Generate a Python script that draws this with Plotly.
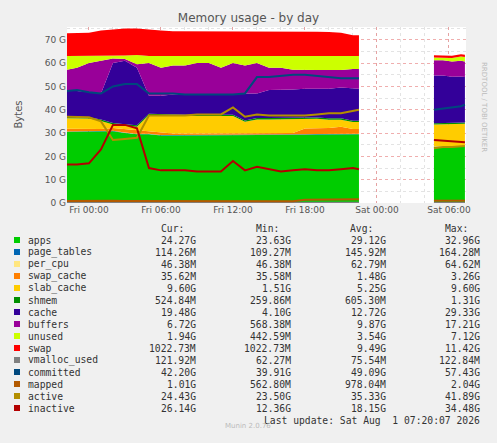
import plotly.graph_objects as go
from datetime import datetime, timedelta

# ---- data (G units) ----
T0 = datetime(2026, 7, 31, 0, 0)
hours1 = [-2,-1,0,1,2,3,4,5,6,7,8,9,10,11,12,13,14,15,16,17,18,19,20,21,22,22.5]
hours2 = [28.75,29.5,30.25,31.0,31.33]

apps1 = [30.5,30.5,30.5,30.5,30.8,30,29.5,29.5,29,29,29,29,29,29,29,29,29,29,29,29.2,29.3,29.4,29.5,29.5,29.5,29.5]
page_tables1 = [0.15]*26
per_cpu1 = [0.06]*26
swap_cache1 = [1.2,1.2,1.0,1.0,1.2,1.5,1.5,1.0,0.8,0.6,0.6,0.6,0.6,0.6,0.6,0.6,0.6,0.6,0.6,0.6,2.5,2.5,2.5,3.0,2.0,2.0]
slab_cache1 = [4.5,4.5,4.5,3.5,1.5,1.5,1.5,7,7.5,7.5,7.5,7.5,7.5,7.5,7.5,5,6,6,6,6,4,4,3.5,3,3,3]
shmem1 = [0.6]*26
cache1 = [11,11,10.7,11.2,25.7,27.2,24.7,7.7,7.9,8.6,8.6,8.6,8.6,8.6,8.6,11.6,10.6,12.1,12.1,12.1,12.4,12.3,12.7,13.2,13.7,13.7]
buffers1 = [9,10,12.5,14,2,0.8,1.5,14,12,12.5,12.5,13.5,13.5,11.5,13.5,12,13,9.5,9.5,8.5,8,8,8,7.5,8.5,8.5]
unused1 = [6,5,3,2,1,1.5,4,3,5,4,4,3,3,5,3,4,3,5,5,6,6,6,6,6,5.5,5.5]
swap1 = [9.8,9.8,10,11,11.5,11.5,11.3,11.3,11,10.7,10.7,10.5,10.5,10.5,10.5,10.5,10.5,10.5,10.5,10.5,10.5,10.5,10.3,10,9,9]
vmalloc1 = [0.07]*26
committed1 = [48,48.5,47.5,47,50,51,51,47,47,47,46.5,46.5,46.5,46.5,46.5,47,54,54,54.5,55,55,54.5,54,53.5,53.5,53.5]
mapped1 = [0.9,1.0,1.0,0.9,1.0,0.9,0.9,0.8,0.8,0.8,0.8,0.8,0.8,0.8,0.8,0.8,0.8,0.8,0.8,0.8,1.4,1.4,1.5,1.6,1.6,1.6]
active1 = [37,37,36.8,35,27,27.5,28,37.5,37.5,37.5,37.5,38,38,38,41,37,38,37.5,37.5,37.5,37.5,38,38.5,38.5,39.5,40]
inactive1 = [16.5,16.5,17,23,33.5,33.5,32,15,14,14,14,13.5,13.5,13.5,18,14,15.5,14.5,13.5,14,14.5,14,14,14.5,15,14.5]

apps2 = [24,24,24,24,24.2]
page_tables2 = [0.11]*5
per_cpu2 = [0.05]*5
swap_cache2 = [0.04]*5
slab_cache2 = [9.5,9.5,9.5,9.6,9.6]
shmem2 = [0.5]*5
cache2 = [20.5,20.5,20,20,19.5]
buffers2 = [6.5,6.5,6.5,6.7,6.7]
unused2 = [1.2,1.2,1.5,1.8,1.9]
swap2 = [1.0]*5
vmalloc2 = [0.12]*5
committed2 = [40,40.5,41,41.5,42.2]
mapped2 = [1.0]*5
active2 = [23.5,24,24,24.2,24.4]
inactive2 = [27,26.8,26.5,26.3,26.1]

names = ["apps","page_tables","per_cpu","swap_cache","slab_cache","shmem","cache","buffers","unused","swap",
         "vmalloc_used","committed","mapped","active","inactive"]
colors = ["#00CC00","#0066B3","#FFE680","#FF8000","#FFCC00","#008F00","#330099","#990099","#CCFF00","#FF0000",
          "#808080","#00487D","#B35A00","#B38F00","#B30000"]
cur = ["24.27G","114.26M","46.38M","35.62M","9.60G","524.84M","19.48G","6.72G","1.94G","1022.73M","121.92M","42.20G","1.01G","24.43G","26.14G"]
mins = ["23.63G","109.27M","46.38M","35.58M","1.51G","259.86M","4.10G","568.38M","442.59M","1022.73M","62.27M","39.91G","562.80M","23.50G","12.36G"]
avgs = ["29.12G","145.92M","62.79M","1.48G","5.25G","605.30M","12.72G","9.87G","3.54G","9.49G","75.54M","49.09G","978.04M","35.33G","18.15G"]
maxs = ["32.96G","164.28M","64.62M","3.26G","9.60G","1.31G","29.33G","17.21G","7.12G","11.42G","122.84M","57.43G","2.04G","41.89G","34.48G"]

seg1 = [apps1,page_tables1,per_cpu1,swap_cache1,slab_cache1,shmem1,cache1,buffers1,unused1,swap1,
        vmalloc1,committed1,mapped1,active1,inactive1]
seg2 = [apps2,page_tables2,per_cpu2,swap_cache2,slab_cache2,shmem2,cache2,buffers2,unused2,swap2,
        vmalloc2,committed2,mapped2,active2,inactive2]

x1 = [T0 + timedelta(hours=h) for h in hours1]
x2 = [T0 + timedelta(hours=h) for h in hours2]

fig = go.Figure()
for sg, xs, data in (("a", x1, seg1), ("b", x2, seg2)):
    for i, (n, c) in enumerate(zip(names, colors)):
        if i < 10:
            fig.add_trace(go.Scatter(x=xs, y=data[i], stackgroup=sg, mode="lines",
                                     line=dict(width=0, color=c), fillcolor=c, showlegend=False))
    for i, (n, c) in enumerate(zip(names, colors)):
        if i >= 10:
            fig.add_trace(go.Scatter(x=xs, y=data[i], mode="lines",
                                     line=dict(width=2, color=c), showlegend=False))

# geometry helpers
L, R, TOP, BOT = 67, 466, 27, 203
def px(x): return (x - L) / (R - L)
def py(y): return (BOT - y) / (BOT - TOP)

mono = "DejaVu Sans Mono"
ann = []
shapes = []
for lbl, xr in (("Cur:", 186), ("Min:", 281), ("Avg:", 375), ("Max:", 470)):
    ann.append(dict(x=px(xr), y=py(228), text=lbl, xanchor="right", yanchor="middle"))
for i, n in enumerate(names):
    yy = 240 + 12 * i
    shapes.append(dict(type="rect", xref="paper", yref="paper", x0=px(14), x1=px(20), y0=py(yy - 3), y1=py(yy + 3),
                       fillcolor=colors[i], line=dict(width=0)))
    ann.append(dict(x=px(26), y=py(yy), text=n, xanchor="left", yanchor="middle"))
    for vals, xr in ((cur, 198), (mins, 293), (avgs, 388), (maxs, 482)):
        ann.append(dict(x=px(xr), y=py(yy), text=vals[i], xanchor="right", yanchor="middle"))
ann.append(dict(x=px(482), y=py(420), text="Last update: Sat Aug  1 07:20:07 2026", xanchor="right", yanchor="middle"))
for a in ann:
    a.update(xref="paper", yref="paper", showarrow=False, font=dict(family=mono, size=9.7, color="#333333"))
ann.append(dict(x=px(248), y=py(432), xref="paper", yref="paper", showarrow=False, text="Munin 2.0.76",
                font=dict(family="DejaVu Sans", size=7, color="#BBBBBB")))
ann.append(dict(x=px(490), y=py(60), xref="paper", yref="paper", showarrow=False, text="RRDTOOL / TOBI OETIKER",
                textangle=90, font=dict(family="DejaVu Sans", size=7, color="#BBBBBB")))
ann.append(dict(x=px(10), y=py(115), xref="paper", yref="paper", showarrow=False, text="Bytes", textangle=-90,
                font=dict(family="DejaVu Sans", size=10, color="#555555")))

fig.update_layout(
    width=497, height=443, margin=dict(l=L, r=497 - R, t=TOP, b=443 - BOT),
    paper_bgcolor="#F0F0F0", plot_bgcolor="#FFFFFF",
    title=dict(text="Memory usage - by day", x=0.5, xanchor="center", y=1 - 18 / 443, yanchor="middle",
               font=dict(family="DejaVu Sans", size=12, color="#555555")),
    annotations=ann, shapes=shapes, showlegend=False,
    xaxis=dict(type="date", range=[T0 - timedelta(hours=1.83), T0 + timedelta(hours=31.42)],
               tickvals=[T0 + timedelta(hours=h) for h in (0, 6, 12, 18, 24, 30)],
               ticktext=["Fri 00:00","Fri 06:00","Fri 12:00","Fri 18:00","Sat 00:00","Sat 06:00"],
               showgrid=True, gridcolor="rgba(230,120,120,0.6)", griddash="dot", gridwidth=1,
               minor=dict(dtick=2 * 3600000, showgrid=True, gridcolor="rgba(220,220,220,0.8)", griddash="dot"),
               tickfont=dict(family="DejaVu Sans", size=9, color="#555555"), zeroline=False, ticks=""),
    yaxis=dict(range=[0, 75.5], dtick=10, ticksuffix=" G", showgrid=True,
               gridcolor="rgba(230,120,120,0.6)", griddash="dot",
               minor=dict(dtick=5, showgrid=True, gridcolor="rgba(220,220,220,0.8)", griddash="dot"),
               tickfont=dict(family="DejaVu Sans", size=9, color="#555555"), zeroline=False, ticks=""),
)
fig.write_html("out.html", config={"displayModeBar": False},
               post_script="document.body.style.margin='0';document.body.style.overflow='hidden';")
